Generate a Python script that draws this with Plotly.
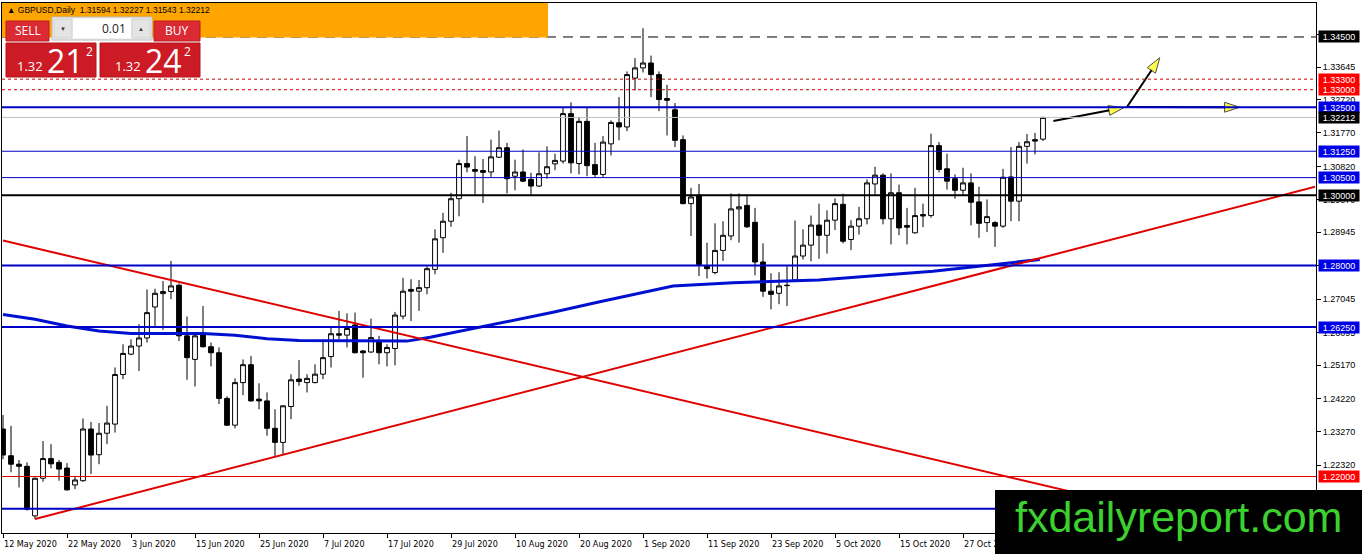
"""GBPUSD Daily - MT4 style candlestick chart rebuilt with plotly."""

import plotly.graph_objects as go

# ---------------- data ----------------
bar_idx = list(range(131))

opens = [
    1.2335, 1.2259, 1.2235, 1.2229, 1.2088, 1.2195, 1.2251, 1.2240, 1.2224, 1.2176,
    1.2188, 1.2335, 1.2262, 1.2323, 1.2349, 1.2490, 1.2548, 1.2571, 1.2594, 1.2682,
    1.2720, 1.2726, 1.2744, 1.2600, 1.2533, 1.2604, 1.2569, 1.2552, 1.2422, 1.2346,
    1.2467, 1.2518, 1.2420, 1.2415, 1.2337, 1.2297, 1.2399, 1.2477, 1.2467, 1.2467,
    1.2491, 1.2541, 1.2606, 1.2602, 1.2631, 1.2557, 1.2554, 1.2584, 1.2552, 1.2564,
    1.2656, 1.2732, 1.2727, 1.2737, 1.2789, 1.2879, 1.2926, 1.2990, 1.3090, 1.3073,
    1.3070, 1.3066, 1.3108, 1.3135, 1.3054, 1.3066, 1.3045, 1.3026, 1.3061, 1.3089,
    1.3097, 1.3232, 1.3090, 1.3210, 1.3087, 1.3059, 1.3146, 1.3206, 1.3194, 1.3333,
    1.3362, 1.3376, 1.3343, 1.3275, 1.3243, 1.3158, 1.2976, 1.3000, 1.2798, 1.2780,
    1.2843, 1.2884, 1.2961, 1.2971, 1.2923, 1.2810, 1.2727, 1.2721, 1.2744, 1.2759,
    1.2827, 1.2858, 1.2915, 1.2886, 1.2929, 1.2974, 1.2874, 1.2912, 1.2933, 1.3032,
    1.3057, 1.2933, 1.3007, 1.2914, 1.2893, 1.2945, 1.2942, 1.3141, 1.3075, 1.3047,
    1.3014, 1.3035, 1.2981, 1.2922, 1.2922, 1.2912, 1.3052, 1.2983, 1.3139, 1.3158,
    1.31594,
]
highs = [
    1.2375, 1.2344, 1.2247, 1.2240, 1.2197, 1.2301, 1.2292, 1.2247, 1.2238, 1.2202,
    1.2365, 1.2355, 1.2352, 1.2401, 1.2510, 1.2576, 1.2590, 1.2633, 1.2732, 1.2734,
    1.2756, 1.2813, 1.2749, 1.2655, 1.2604, 1.2685, 1.2581, 1.2567, 1.2428, 1.2479,
    1.2533, 1.2543, 1.2465, 1.2439, 1.2391, 1.2403, 1.2491, 1.2531, 1.2491, 1.2519,
    1.2590, 1.2626, 1.2671, 1.2664, 1.2666, 1.2560, 1.2649, 1.2600, 1.2576, 1.2668,
    1.2765, 1.2761, 1.2759, 1.2798, 1.2903, 1.2950, 1.3007, 1.3101, 1.3168, 1.3111,
    1.3103, 1.3158, 1.3184, 1.3149, 1.3101, 1.3130, 1.3064, 1.3122, 1.3139, 1.3118,
    1.3248, 1.3264, 1.3222, 1.3248, 1.3149, 1.3168, 1.3213, 1.3279, 1.3352, 1.3390,
    1.3475, 1.3397, 1.3352, 1.3314, 1.3262, 1.3170, 1.3021, 1.3032, 1.2865, 1.2920,
    1.2926, 1.3005, 1.3005, 1.3002, 1.2964, 1.2863, 1.2778, 1.2781, 1.2798, 1.2928,
    1.2903, 1.2942, 1.2976, 1.2957, 1.2991, 1.3004, 1.2929, 1.2967, 1.3045, 1.3081,
    1.3062, 1.3062, 1.3030, 1.2964, 1.3021, 1.2976, 1.3175, 1.3151, 1.3118, 1.3059,
    1.3078, 1.3062, 1.3024, 1.2988, 1.2926, 1.3075, 1.3137, 1.3151, 1.3174, 1.3177,
    1.32227,
]
lows = [
    1.2249, 1.2212, 1.2169, 1.2103, 1.2079, 1.2185, 1.2223, 1.2188, 1.2160, 1.2164,
    1.2185, 1.2207, 1.2235, 1.2292, 1.2325, 1.2477, 1.2545, 1.2500, 1.2581, 1.2628,
    1.2617, 1.2704, 1.2585, 1.2475, 1.2456, 1.2567, 1.2513, 1.2406, 1.2344, 1.2337,
    1.2431, 1.2413, 1.2391, 1.2316, 1.2257, 1.2264, 1.2363, 1.2458, 1.2439, 1.2465,
    1.2477, 1.2510, 1.2590, 1.2567, 1.2550, 1.2481, 1.2552, 1.2519, 1.2513, 1.2516,
    1.2647, 1.2642, 1.2671, 1.2718, 1.2775, 1.2836, 1.2910, 1.2940, 1.3065, 1.2999,
    1.2978, 1.3052, 1.3106, 1.3005, 1.3014, 1.3037, 1.2999, 1.3024, 1.3047, 1.3071,
    1.3090, 1.3062, 1.3059, 1.3054, 1.3052, 1.3052, 1.3113, 1.3156, 1.3182, 1.3298,
    1.3349, 1.3279, 1.3239, 1.3170, 1.3137, 1.2974, 1.2884, 1.2770, 1.2763, 1.2775,
    1.2813, 1.2872, 1.2865, 1.2907, 1.2772, 1.2711, 1.2675, 1.2690, 1.2685, 1.2756,
    1.2817, 1.2812, 1.2819, 1.2834, 1.2901, 1.2863, 1.2844, 1.2888, 1.2917, 1.3002,
    1.2917, 1.2860, 1.2886, 1.2860, 1.2891, 1.2909, 1.2936, 1.3065, 1.3016, 1.2990,
    1.3002, 1.2914, 1.2879, 1.2895, 1.2853, 1.2907, 1.2926, 1.2926, 1.3090, 1.3116,
    1.31543,
]
closes = [
    1.2261, 1.2235, 1.2229, 1.2107, 1.2195, 1.2251, 1.2236, 1.2221, 1.2162, 1.2190,
    1.2335, 1.2261, 1.2323, 1.2352, 1.2490, 1.2550, 1.2571, 1.2594, 1.2666, 1.2721,
    1.2726, 1.2742, 1.2600, 1.2538, 1.2600, 1.2569, 1.2552, 1.2422, 1.2346, 1.2467,
    1.2518, 1.2415, 1.2415, 1.2337, 1.2297, 1.2401, 1.2475, 1.2470, 1.2479, 1.2491,
    1.2538, 1.2606, 1.2602, 1.2621, 1.2552, 1.2552, 1.2595, 1.2552, 1.2567, 1.2659,
    1.2727, 1.2727, 1.2737, 1.2791, 1.2876, 1.2926, 1.2990, 1.3090, 1.3080, 1.3068,
    1.3065, 1.3109, 1.3135, 1.3047, 1.3066, 1.3040, 1.3026, 1.3061, 1.3081, 1.3099,
    1.3232, 1.3092, 1.3210, 1.3084, 1.3059, 1.3151, 1.3207, 1.3194, 1.3343, 1.3362,
    1.3376, 1.3343, 1.3272, 1.3270, 1.3156, 1.2976, 1.2995, 1.2803, 1.2791, 1.2843,
    1.2886, 1.2961, 1.2967, 1.2910, 1.2810, 1.2727, 1.2718, 1.2742, 1.2743, 1.2827,
    1.2858, 1.2915, 1.2886, 1.2929, 1.2976, 1.2869, 1.2912, 1.2933, 1.3035, 1.3057,
    1.2933, 1.3007, 1.2907, 1.2909, 1.2942, 1.2941, 1.3141, 1.3073, 1.3040, 1.3014,
    1.3035, 1.2980, 1.2920, 1.2939, 1.2912, 1.3051, 1.2983, 1.3139, 1.3152, 1.3154,
    1.32212,
]

# 200 day moving average (sampled along the drawn curve)
ma_bars = [0, 4, 8, 12, 16, 25, 29, 33, 37, 50.5, 53.4, 60.5, 68.75, 74.6, 83.75, 91.25, 102, 116.25, 129.6]
ma_vals = [1.2661, 1.2647, 1.2628, 1.2614, 1.2607, 1.2607, 1.2602, 1.2592, 1.2587, 1.2585,
           1.2596, 1.2628, 1.2667, 1.2697, 1.2742, 1.2751, 1.2759, 1.2784, 1.2817]

# trend lines (two anchor points each)
trend_down_bars = [0, 160]
trend_down_vals = [1.2871, 1.2015]
trend_up_bars = [4, 164]
trend_up_vals = [1.2079, 1.3024]

# horizontal levels
level_prices = [1.34500, 1.33300, 1.33000, 1.32500, 1.32212, 1.31250, 1.30500, 1.30000,
                1.28000, 1.26250, 1.22000, 1.21080]
level_labeled = [True, True, True, True, True, True, True, True, True, True, True, False]

# hand-drawn arrows (from -> to)
arrow_from_bars = [131.3, 140.5, 140.5]
arrow_from_vals = [1.3211, 1.3251, 1.3251]
arrow_to_bars = [140.1, 144.6, 154.6]
arrow_to_vals = [1.3249, 1.3391, 1.3250]

# axis ticks
price_ticks = [1.34570, 1.33645, 1.32720, 1.31770, 1.30820, 1.29870, 1.28945, 1.27995,
               1.27045, 1.26095, 1.25170, 1.24220, 1.23270, 1.22320]
date_bars = [0, 8, 16, 24, 32, 40, 48, 56, 64, 72, 80, 88, 96, 104, 112, 120]
date_labels = ["12 May 2020", "22 May 2020", "3 Jun 2020", "15 Jun 2020", "25 Jun 2020",
               "7 Jul 2020", "17 Jul 2020", "29 Jul 2020", "10 Aug 2020", "20 Aug 2020",
               "1 Sep 2020", "11 Sep 2020", "23 Sep 2020", "5 Oct 2020", "15 Oct 2020",
               "27 Oct 2020"]

header_text = "\u25b2 GBPUSD,Daily  1.31594 1.32227 1.31543 1.32212"

# ---------------- styles ----------------
BLUE = "#0000c8"
BLUE_LBL = "#0000e6"
RED = "#e00000"
RED_LBL = "#ff0000"
level_styles = [
    dict(color="black", width=1, dash="10px,7px", bg="black"),
    dict(color="#d00000", width=1, dash="3px,3px", bg=RED_LBL),
    dict(color="#d00000", width=1, dash="3px,3px", bg=RED_LBL),
    dict(color=BLUE, width=2, dash="solid", bg=BLUE_LBL),
    dict(color="#c0c0c0", width=1, dash="solid", bg="black"),
    dict(color=BLUE, width=1, dash="solid", bg=BLUE_LBL),
    dict(color=BLUE, width=1, dash="solid", bg=BLUE_LBL),
    dict(color="black", width=2, dash="solid", bg="black"),
    dict(color=BLUE, width=2, dash="solid", bg=BLUE_LBL),
    dict(color=BLUE, width=2, dash="solid", bg=BLUE_LBL),
    dict(color=RED, width=1, dash="solid", bg=RED_LBL),
    dict(color=BLUE, width=2, dash="solid", bg=BLUE_LBL),
]

AX_FONT = "Liberation Sans, Arial, sans-serif"
NARROW = "DejaVu Sans Condensed, Liberation Sans Narrow, Liberation Sans, sans-serif"
PANEL_FONT = "Liberation Sans Narrow, Open Sans, sans-serif"

W, H = 1362, 554
L, R, T, B = 2, 1316, 3, 533   # plot area in page pixels


def px(x):
    return (x - L) / (R - L)


def py(y):
    return (B - y) / (B - T)


def rect(x0, y0, x1, y1, fill, line=None, lw=1):
    return dict(type="rect", xref="paper", yref="paper", layer="above",
                x0=px(x0), x1=px(x1), y0=py(y1), y1=py(y0),
                fillcolor=fill, line=dict(color=line or fill, width=lw if line else 0))


def label(x, y, text, size, color="white", family=PANEL_FONT, xanchor="left"):
    return dict(x=px(x), y=py(y), xref="paper", yref="paper", xanchor=xanchor,
                yanchor="middle", text=text, showarrow=False,
                font=dict(family=family, size=size, color=color))


fig = go.Figure()

fig.add_trace(go.Candlestick(
    x=bar_idx, open=opens, high=highs, low=lows, close=closes,
    increasing=dict(line=dict(color="black", width=1), fillcolor="white"),
    decreasing=dict(line=dict(color="black", width=1), fillcolor="black"),
    whiskerwidth=0, showlegend=False, hoverinfo="skip",
))

fig.add_trace(go.Scatter(x=ma_bars, y=ma_vals, mode="lines",
                         line=dict(color="#0010d0", width=3), showlegend=False, hoverinfo="skip"))
fig.add_trace(go.Scatter(x=trend_down_bars, y=trend_down_vals, mode="lines",
                         line=dict(color=RED, width=2), showlegend=False, hoverinfo="skip"))
fig.add_trace(go.Scatter(x=trend_up_bars, y=trend_up_vals, mode="lines",
                         line=dict(color=RED, width=2), showlegend=False, hoverinfo="skip"))

for fb, fv, tb, tv in zip(arrow_from_bars, arrow_from_vals, arrow_to_bars, arrow_to_vals):
    fig.add_trace(go.Scatter(
        x=[fb, tb], y=[fv, tv], mode="lines+markers",
        line=dict(color="black", width=2),
        marker=dict(symbol="arrow", size=[0, 16], angleref="previous",
                    color="#ffff00", line=dict(color="black", width=1)),
        showlegend=False, hoverinfo="skip", cliponaxis=False,
    ))

shapes = []
for price, st in zip(level_prices, level_styles):
    shapes.append(dict(type="line", xref="paper", yref="y", x0=0, x1=1, y0=price, y1=price,
                       layer="above", line=dict(color=st["color"], width=st["width"], dash=st["dash"])))

# header strip and one-click trading panel
shapes.append(rect(2, 3, 548, 37.5, "#ffa500"))
shapes.append(rect(6, 21, 49, 41, "#da2a33", "#c01a22"))
shapes.append(rect(52, 17, 152, 40, "#f2f2f2", "#b8b8b8"))
shapes.append(rect(54, 19, 72, 38, "#e4e4e4", "#cfcfcf"))
shapes.append(rect(73, 19, 131, 38, "white"))
shapes.append(rect(132, 19, 150, 38, "#e4e4e4", "#cfcfcf"))
shapes.append(rect(154, 21, 200, 41, "#da2a33", "#c01a22"))
shapes.append(rect(6, 43, 96, 77, "#cc1b24", "#b5121a"))
shapes.append(rect(100, 43, 200, 77, "#cc1b24", "#b5121a"))
# watermark box
shapes.append(rect(995, 490, 1362, 554, "black"))

annotations = []
for price, st, show in zip(level_prices, level_styles, level_labeled):
    if not show:
        continue
    annotations.append(dict(
        x=1, xref="paper", xanchor="left", xshift=2, y=price, yref="y", yanchor="middle",
        text=f"{price:.5f}", showarrow=False, bgcolor=st["bg"], width=40, height=11, borderpad=0,
        font=dict(family=AX_FONT, size=9, color="white"),
    ))

for b, txt in zip(date_bars, date_labels):
    annotations.append(dict(
        x=b, xref="x", y=0, yref="paper", xanchor="left", yanchor="top", yshift=-4, xshift=-1,
        text=txt, showarrow=False, font=dict(family=NARROW, size=9, color="black"),
    ))

annotations += [
    label(5, 10, header_text, 8.5, color="black", family=AX_FONT),
    label(27.5, 31, "SELL", 12, xanchor="center"),
    label(63, 28.5, "\u25bc", 6, color="#333333", family=AX_FONT, xanchor="center"),
    label(128, 28.5, "0.01", 12, color="#222222", xanchor="right"),
    label(141, 28.5, "\u25b2", 6, color="#333333", family=AX_FONT, xanchor="center"),
    label(177, 31, "BUY", 12, xanchor="center"),
    label(15, 66, "1.32", 13),
    label(45, 61, "21", 32),
    label(84, 52, "2", 12),
    label(113, 66, "1.32", 13),
    label(143, 61, "24", 32),
    label(182, 52, "2", 12),
    label(1178, 517, "fxdailyreport.com", 43, color="#3bd12e",
          family="Liberation Sans, Arial, sans-serif", xanchor="center"),
]

fig.update_layout(
    width=W, height=H,
    margin=dict(l=L, r=W - R, t=T, b=H - B),
    paper_bgcolor="white", plot_bgcolor="white",
    showlegend=False,
    boxgap=0.25, boxgroupgap=0.2,
    shapes=shapes, annotations=annotations,
    xaxis=dict(
        range=[-0.125, 164.125], showgrid=False, zeroline=False,
        tickvals=date_bars, ticks="outside", ticklen=4, tickcolor="black",
        showticklabels=False, showline=True, linecolor="black", linewidth=1, mirror=True,
        rangeslider=dict(visible=False), fixedrange=True,
    ),
    yaxis=dict(
        side="right", range=[1.20393, 1.35466], showgrid=False, zeroline=False,
        tickvals=price_ticks, ticktext=[f"{v:.5f}" for v in price_ticks],
        ticks="outside", ticklen=4, tickcolor="black",
        tickfont=dict(family=AX_FONT, size=9, color="black"),
        showline=True, linecolor="black", linewidth=1, mirror=True,
        automargin=False, fixedrange=True,
    ),
)

# the page body has a default 8px margin; drop it so the figure sits at the window corner
fig.write_html("out.html", config={"displayModeBar": False},
               post_script="document.body.style.margin='0px';")
